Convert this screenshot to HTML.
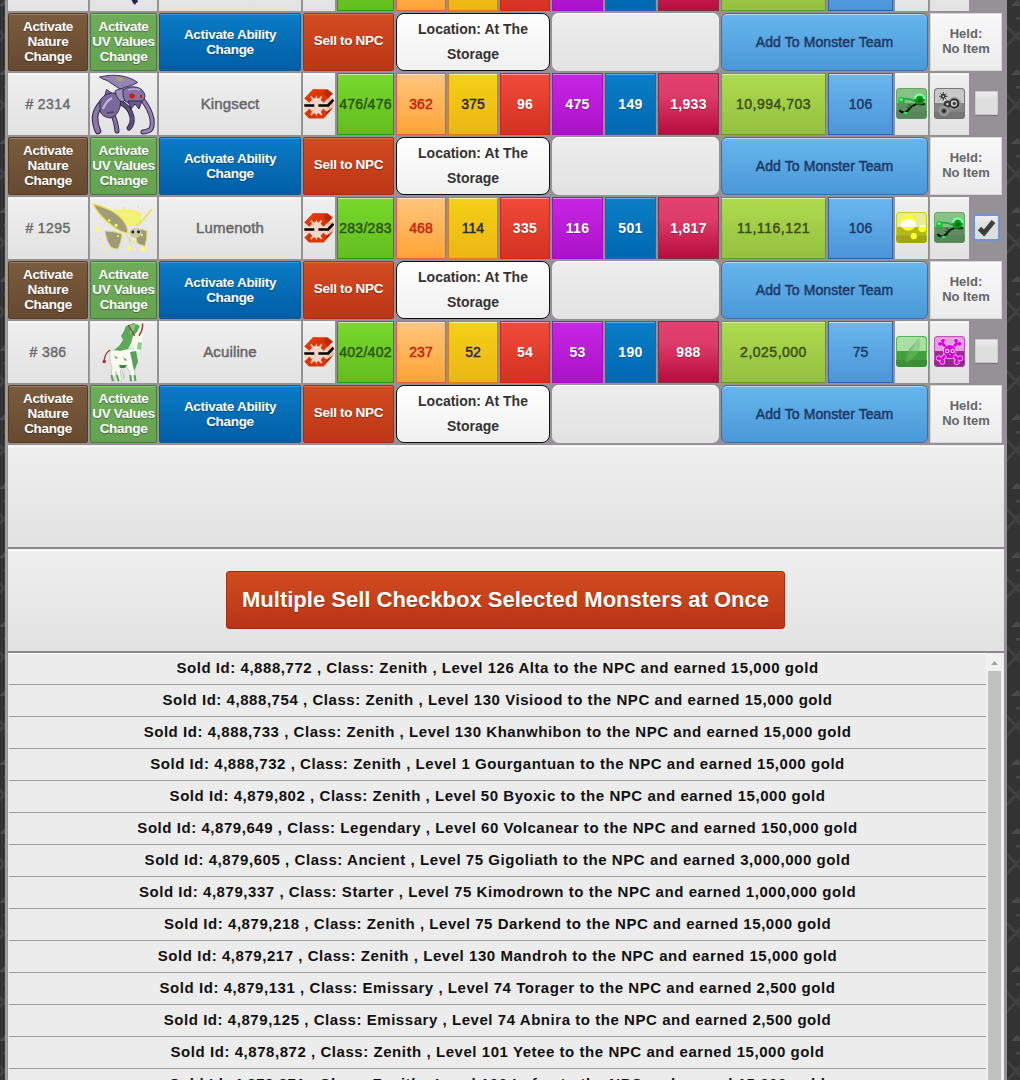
<!DOCTYPE html><html><head><meta charset="utf-8"><style>
*{margin:0;padding:0;box-sizing:border-box}
html,body{width:1020px;height:1080px;overflow:hidden}
body{background:#363636;font-family:"Liberation Sans",sans-serif;font-weight:bold;position:relative}
.a{position:absolute}
.frame{position:absolute;left:5px;top:0;width:1002px;height:1080px;background:#969196}
.fl{position:absolute;left:5px;top:0;width:2px;height:1080px;background:#a29ea3}
.g{background:linear-gradient(#efefef,#e2e2e2);box-shadow:inset 0 1px 0 #eee,inset 0 2px 0 #fff}
.c{display:flex;align-items:center;justify-content:center;text-align:center}
.btn{padding-bottom:2px;border-radius:2px;color:#fff;font-size:13.5px;letter-spacing:-0.3px;line-height:15px;text-shadow:0 1px 1px rgba(0,0,0,.35)}
.brown{background:linear-gradient(#7a5b3d,#664a30);border:1px solid #5a3a1c;box-shadow:inset 0 1px 0 #a07a6a}
.uv{background:linear-gradient(#6fac5a,#65a352);border:1px solid #3f8030;box-shadow:inset 0 1px 0 #8cc47a}
.abil{background:linear-gradient(#0a7cc6,#005ea6);border:1px solid #0a5a9a;box-shadow:inset 0 1px 0 #3a9ada}
.sell{background:linear-gradient(#d24c20,#bd3616);border:1px solid #a83010;box-shadow:inset 0 1px 0 #e0704a}
.loc{background:linear-gradient(#ffffff,#f0f0f0);border:1.5px solid #111;border-radius:8px;color:#333;font-size:14px;line-height:25px}
.gbox{background:linear-gradient(#ededed,#e2e2e2);border-radius:7px;box-shadow:inset 0 1px 0 #fff}
.add{background:linear-gradient(#66b6ec,#4a98d8);border:1px solid #3a6cb4;border-radius:6px;box-shadow:inset 0 1px 0 #b0dcf8;color:#1e3a6a;font-size:14px;letter-spacing:0.1px;font-weight:normal;-webkit-text-stroke:0.5px currentColor}
.held{padding-bottom:2px;box-shadow:inset 0 0 0 1px #d6d6d6,inset 0 2px 0 #fff;background:linear-gradient(#f8f8f8,#ececec);color:#666;font-size:13px;line-height:15px}
.stat{font-size:14px;font-weight:normal;-webkit-text-stroke:0.45px currentColor;box-shadow:inset 0 1px 0 rgba(255,255,255,.5)}
.hp{letter-spacing:0.3px;background:linear-gradient(#78d82c,#62be1e);border:1px solid #229911;color:#2c5212;box-shadow:inset 0 1px 0 #c8f0a0}
.s1{background:linear-gradient(#ffc67c,#ffa436);border:1px solid #e85a3a;color:#c8200e;box-shadow:inset 0 1px 0 #ffe6c0}
.s2{background:linear-gradient(#f4d018,#ecb612);border:1px solid #d88010;color:#1e2a40;box-shadow:inset 0 1px 0 #fff0a0}
.s3{background:linear-gradient(#f24a3a,#d43222);border:1px solid #d82010;color:#fff;box-shadow:inset 0 1px 0 #f8a090}
.s4{background:linear-gradient(#c626e4,#ac12ca);border:1px solid #a010c4;color:#fff;box-shadow:inset 0 1px 0 #e080f0}
.s5{background:linear-gradient(#0a7ec6,#0068b2);border:1px solid #2a62ae;color:#fff;box-shadow:inset 0 1px 0 #60aaf0}
.s6{background:linear-gradient(#e2426e 0%,#de3c6a 35%,#b80c3c 100%);border:1px solid #7a3346;color:#fff;box-shadow:none}
.gold{background:linear-gradient(#aedc4e,#94c040);border:1px solid #6a9a22;color:#3c4c14;letter-spacing:0.5px;box-shadow:inset 0 1px 0 #dcf4a0}
.lvl{background:linear-gradient(#68b8ee,#4c94d8);border:1px solid #2a62ae;color:#1e3a6a;box-shadow:inset 0 1px 0 #c0e4fa}
.s3,.s4,.s5,.s6{letter-spacing:0.3px;font-weight:bold;-webkit-text-stroke:0;text-shadow:0 1px 1px rgba(0,0,0,.25)}
.idc{color:#6c6c6c;font-size:14px;letter-spacing:0.4px;font-weight:normal;-webkit-text-stroke:0.45px currentColor}
.nm{font-weight:normal;-webkit-text-stroke:0.5px currentColor;color:#686868;font-size:15px;letter-spacing:0.15px;padding-bottom:2px}
.log{position:absolute;left:8px;top:653px;width:996px;height:427px;background:#ececec;overflow:hidden;box-shadow:inset 0 1px 0 #fff}
.row{height:32px;border-bottom:1px solid #9a9a9a;width:977px;margin-left:1px;font-size:15px;line-height:30px;text-align:center;color:#111;letter-spacing:0.55px;white-space:nowrap}
</style></head><body>
<svg class="a" style="left:0;top:0" width="1020" height="1080"><defs><pattern id="tx" x="1007" y="0" width="46" height="69" patternUnits="userSpaceOnUse"><rect width="46" height="69" fill="#333"/><path d="M-2 24 L20 48 M20 24 L-2 48 M23 58 L46 34" stroke="#414141" stroke-width="3" fill="none"/><path d="M4 6 l6 -6 l6 6z" fill="#4a4a4a"/><rect x="9" y="17" width="6" height="2.5" fill="#474747"/><rect x="30" y="50" width="10" height="3" fill="#3c3c3c"/></pattern></defs><rect width="1020" height="1080" fill="url(#tx)"/></svg>
<div class="frame"></div><div class="fl"></div>
<div class="a g c idc" style="left:8px;top:-51px;width:80px;height:62px"></div>
<div class="a g" style="left:90px;top:-51px;width:67px;height:62px"><svg class="a" style="left:40px;top:50px" width="10" height="8"><path d="M1 0 H7 L8 3 L6 4 L5 6 L3 4 Z" fill="#2a2050"/></svg></div>
<div class="a g c nm" style="left:159px;top:-51px;width:142px;height:62px"></div>
<div class="a g" style="left:303px;top:-51px;width:32px;height:62px"></div>
<div class="a c stat hp" style="left:337px;top:-51px;width:57px;height:62px"></div>
<div class="a c stat s1" style="left:396px;top:-51px;width:50px;height:62px"></div>
<div class="a c stat s2" style="left:448px;top:-51px;width:50px;height:62px"></div>
<div class="a c stat s3" style="left:500px;top:-51px;width:50px;height:62px"></div>
<div class="a c stat s4" style="left:552px;top:-51px;width:51px;height:62px"></div>
<div class="a c stat s5" style="left:605px;top:-51px;width:51px;height:62px"></div>
<div class="a c stat s6" style="left:658px;top:-51px;width:61px;height:62px"></div>
<div class="a c stat gold" style="left:721px;top:-51px;width:105px;height:62px"></div>
<div class="a c stat lvl" style="left:828px;top:-51px;width:65px;height:62px"></div>
<div class="a g" style="left:895px;top:-51px;width:33px;height:62px"></div>
<div class="a g" style="left:930px;top:-51px;width:39px;height:62px"></div>
<div class="a c btn brown" style="left:8px;top:13px;width:80px;height:58px">Activate<br>Nature<br>Change</div>
<div class="a c btn uv" style="left:90px;top:13px;width:67px;height:58px">Activate<br>UV Values<br>Change</div>
<div class="a c btn abil" style="left:159px;top:13px;width:142px;height:58px;padding-bottom:0">Activate Ability<br>Change</div>
<div class="a c btn sell" style="left:303px;top:13px;width:91px;height:58px;padding-bottom:3px">Sell to NPC</div>
<div class="a c loc" style="left:396px;top:13px;width:154px;height:58px">Location: At The<br>Storage</div>
<div class="a gbox" style="left:552px;top:13px;width:167px;height:58px"></div>
<div class="a c add" style="left:721px;top:13px;width:207px;height:58px">Add To Monster Team</div>
<div class="a c held" style="left:930px;top:13px;width:72px;height:58px">Held:<br>No Item</div>
<div class="a g c idc" style="left:8px;top:73px;width:80px;height:62px"># 2314</div>
<div class="a g" style="left:90px;top:73px;width:67px;height:62px"><svg class="a" style="left:0;top:0" width="67" height="62" viewBox="0 0 67 62">
  <g fill="none" stroke-linecap="round" stroke-linejoin="round">
   <path d="M12 30 Q6 36 5 44 Q5 52 8 58" stroke="#2e2248" stroke-width="6.5"/>
   <path d="M12 30 Q6 36 5 44 Q5 52 8 58" stroke="#8878a8" stroke-width="4.5"/>
   <path d="M22 40 Q26 48 27 58" stroke="#2e2248" stroke-width="5"/>
   <path d="M22 40 Q26 48 27 58" stroke="#8070a0" stroke-width="3.2"/>
   <path d="M31 30 Q40 34 42 44 Q43 51 39 55" stroke="#2a1e40" stroke-width="5"/>
   <path d="M31 30 Q40 34 42 44 Q43 51 39 55" stroke="#5e4e7e" stroke-width="3.4"/>
   <path d="M52 26 Q60 36 62 46 Q63 54 60 57 Q56 59 53 59" stroke="#2e2248" stroke-width="5"/>
   <path d="M52 26 Q60 36 62 46 Q63 54 60 57 Q56 59 53 59" stroke="#9080b0" stroke-width="3.2"/>
  </g>
  <g stroke="#2e2248" stroke-width="0.9" stroke-linejoin="round">
   <path d="M9.5 4 Q22 1 32 3 Q42 5 47.5 9.5 Q42 13 36 14 L30 16 Q24 12 17 7.5 Q12 6 9.5 4z" fill="#9484b4"/>
   <path d="M16.5 16.5 L23 21 L14 26z" fill="#8070a0"/>
   <path d="M10 27 Q16 19 26 20 Q32 24 30 34 Q27 44 20 45 Q12 44 10 38z" fill="#7a6a9a"/>
   <path d="M25 18 Q31 14 36 17 Q38 24 33 29 Q27 28 25 18z" fill="#a090c0"/>
   <path d="M33 17 Q38 13 46 14 Q54 16 55 23 Q54 29 48 31 Q40 32 35 28 Q32 22 33 17z" fill="#8474a4"/>
   <path d="M38 28 L41 36 L45 31 L49 36 L52 28z" fill="#6a5a8a"/>
  </g>
  <path d="M26 4 L33 4.5 L33 8 L27 8z" fill="#a8a070"/>
  <path d="M13 36 Q16 28 22 25" stroke="#c4b8e0" stroke-width="2" fill="none"/>
  <path d="M17 40 L24 39" stroke="#4a3a66" stroke-width="1.5"/>
  <ellipse cx="42" cy="23" rx="2.8" ry="2.4" fill="#d41818"/><ellipse cx="51" cy="23.5" rx="1.3" ry="2" fill="#c82030"/>
  <path d="M38 17 Q44 15 50 17" stroke="#b8a8d8" stroke-width="1.5" fill="none"/>
 </svg></div>
<div class="a g c nm" style="left:159px;top:73px;width:142px;height:62px">Kingsect</div>
<div class="a g" style="left:303px;top:73px;width:32px;height:62px"><svg class="a" style="left:1px;top:16px" width="30" height="31" viewBox="0 0 30 31">
<path d="M0.3 12.5 H24 L29.4 8.2 V19 L24 21 H0.3z" fill="#f4d4c6"/>
<path d="M23.5 9.4 L29.4 8.2 V19 L23.5 20.4z" fill="#f0b8a0"/>
<path d="M0.3 9.4 L9 0.3 H23.5 L28.8 4.6 L19.7 13.7 L16.6 10.9 H8.1 L5.3 13.7z" fill="#dc3606"/>
<path d="M0.3 9.4 L9 0.3 H14 L5.3 9 z" fill="#f03c08" opacity=".7"/>
<path d="M21 1 H23.5 L28.8 4.6 L23.8 9.6 L20 5z" fill="#b42c04"/>
<path d="M0.3 24.4 L5.3 19.8 L8.6 23 H16.2 L19.5 19.8 L22.5 22.6 L28.8 18.8 L19.7 29.4 H5 z" fill="#dc3606"/>
<path d="M22.5 22.6 L28.8 18.8 L24 24.5 L21 27z" fill="#b42c04"/>
<path d="M8.1 10.9 L6.2 7.8 L7.2 7 L10 9.5 L11.5 9 L12.3 6.5 L13.2 9 L14.6 9.5 L17.2 7 L18.2 7.8 L16.6 10.9 L17 13 V21 L16.6 22.8 L18.4 25.8 L17.4 26.6 L14.6 24.2 L13.2 24.8 L12.3 27.2 L11.5 24.8 L10 24.2 L7.2 26.6 L6.2 25.8 L8.1 22.8 L7.6 21 V13z" fill="#f4d4c6"/>
<path d="M0.3 16.5 H10.3 M14.4 16.5 H24.1 L29.4 10.8" stroke="#000" stroke-width="2.6" fill="none"/>
</svg></div>
<div class="a c stat hp" style="left:337px;top:73px;width:57px;height:62px">476/476</div>
<div class="a c stat s1" style="left:396px;top:73px;width:50px;height:62px">362</div>
<div class="a c stat s2" style="left:448px;top:73px;width:50px;height:62px">375</div>
<div class="a c stat s3" style="left:500px;top:73px;width:50px;height:62px">96</div>
<div class="a c stat s4" style="left:552px;top:73px;width:51px;height:62px">475</div>
<div class="a c stat s5" style="left:605px;top:73px;width:51px;height:62px">149</div>
<div class="a c stat s6" style="left:658px;top:73px;width:61px;height:62px">1,933</div>
<div class="a c stat gold" style="left:721px;top:73px;width:105px;height:62px">10,994,703</div>
<div class="a c stat lvl" style="left:828px;top:73px;width:65px;height:62px">106</div>
<div class="a g" style="left:895px;top:73px;width:33px;height:62px"><div class="a" style="left:1px;top:15px;width:31px;height:31px;border-radius:4px;overflow:hidden;background:linear-gradient(#86c286 0,#86c286 47%,#5e8e60 47%,#5e8e60 100%);box-shadow:inset 0 0 0 1px #6aa86a;"><svg width="31" height="31" viewBox="0 0 31 31">
   <rect x="0" y="23" width="31" height="8" fill="#557f57" opacity=".6"/>
   <path d="M5 11.5 Q12 9 19.5 13.5" stroke="#20a838" stroke-width="1.6" fill="none"/>
   <circle cx="5.5" cy="12.5" r="3.4" fill="#18c038"/><circle cx="5" cy="11.5" r="1.5" fill="#70f090"/>
   <path d="M20.5 16 Q16 17.5 14 20 Q12 23.5 8 24.5 Q5 24.5 3.5 22" stroke="#000" stroke-width="1.8" fill="none"/>
   <path d="M12 16.5 L17 18.5 M10.5 19 L15.5 20.5" stroke="#1a5a20" stroke-width="1.1"/>
   <ellipse cx="9.5" cy="25" rx="2.3" ry="1.6" fill="#30d858"/>
   <ellipse cx="25" cy="16" rx="4" ry="1.2" fill="#000"/>
   <circle cx="23.5" cy="11.5" r="5.2" fill="#0a9a1a"/><path d="M19 11 Q19.5 6.5 24 6.5 Q28 7 28.5 11" stroke="#80ffa8" stroke-width="2" fill="none"/>
   <circle cx="24" cy="12.5" r="2.2" fill="#067010"/></svg></div></div>
<div class="a g" style="left:930px;top:73px;width:39px;height:62px"><div class="a" style="left:4px;top:15px;width:31px;height:31px;border-radius:4px;overflow:hidden;background:linear-gradient(#c8c8c8 0,#c8c8c8 47%,#858585 47%,#858585 100%);box-shadow:inset 0 0 0 1px #777;"><svg width="31" height="31" viewBox="0 0 31 31">
   <rect x="0" y="24" width="31" height="7" fill="#6a6a6a" opacity=".5"/>
   <circle cx="9.3" cy="8.3" r="2.3" fill="#222"/><path d="M9.3 4 V12.6 M5 8.3 H13.6 M6.3 5.3 L12.3 11.3 M12.3 5.3 L6.3 11.3" stroke="#333" stroke-width="0.9"/>
   <circle cx="9.3" cy="8.3" r="0.9" fill="#ddd"/>
   <circle cx="20.3" cy="15.5" r="6.8" fill="#999" opacity=".8"/><circle cx="20.3" cy="15.5" r="5" fill="#222"/><circle cx="20" cy="15.5" r="3.3" fill="#ccc"/><circle cx="20.3" cy="15.5" r="1.8" fill="#444"/>
   <circle cx="13.4" cy="16.2" r="3.6" fill="#3a3a3a"/><circle cx="13.4" cy="16.2" r="1.1" fill="#eee"/>
   <circle cx="10" cy="23" r="5" fill="#a0a0a0"/><circle cx="10" cy="23" r="3" fill="#666"/><circle cx="10" cy="23" r="1.5" fill="#222"/></svg></div></div>
<div class="a" style="left:975px;top:73px;margin-top:18px;width:23px;height:24px;border-radius:2px;background:linear-gradient(#efefef,#dedede 40%,#dedede);box-shadow:inset 0 0 0 1px #ccc,0 1px 1px rgba(0,0,0,.25)"></div>
<div class="a c btn brown" style="left:8px;top:137px;width:80px;height:58px">Activate<br>Nature<br>Change</div>
<div class="a c btn uv" style="left:90px;top:137px;width:67px;height:58px">Activate<br>UV Values<br>Change</div>
<div class="a c btn abil" style="left:159px;top:137px;width:142px;height:58px;padding-bottom:0">Activate Ability<br>Change</div>
<div class="a c btn sell" style="left:303px;top:137px;width:91px;height:58px;padding-bottom:3px">Sell to NPC</div>
<div class="a c loc" style="left:396px;top:137px;width:154px;height:58px">Location: At The<br>Storage</div>
<div class="a gbox" style="left:552px;top:137px;width:167px;height:58px"></div>
<div class="a c add" style="left:721px;top:137px;width:207px;height:58px">Add To Monster Team</div>
<div class="a c held" style="left:930px;top:137px;width:72px;height:58px">Held:<br>No Item</div>
<div class="a g c idc" style="left:8px;top:197px;width:80px;height:62px"># 1295</div>
<div class="a g" style="left:90px;top:197px;width:67px;height:62px"><svg class="a" style="left:0;top:0" width="67" height="62" viewBox="0 0 67 62">
  <path d="M24 14 Q34 12 44 14 Q51 15 51 18 Q50 24 48 28 L36 29 Q29 22 24 14z" fill="#f2f274" stroke="#f8f040" stroke-width="0.8"/>
  <path d="M3 7 Q12 9 20 13 Q30 18 35 26 Q38 31 38 36 Q32 36 24 30 Q14 23 8 15 Q5 11 3 7z" fill="#a29c7a" stroke="#e8e448" stroke-width="1.3"/>
  <path d="M15 34 Q24 34 32 37 Q31 46 28 52 Q24 52 21 50 Q16 44 15 34z" fill="#a09a7c" stroke="#e0dc58" stroke-width="0.9"/>
  <path d="M47 32 Q53 32 57 34 Q57 42 55 49 Q50 48 47 46 Q45 38 47 32z" fill="#a09a7c" stroke="#e0dc58" stroke-width="0.9"/>
  <path d="M47 29 Q56 20 62 12" stroke="#e8e460" stroke-width="2" fill="none"/>
  <ellipse cx="45.5" cy="36" rx="6" ry="5" fill="#cfcc94"/>
  <path d="M36 38 Q40 44 44 46 M40 40 Q38 46 42 48" stroke="#e8e060" stroke-width="1" fill="none"/>
  <circle cx="42.8" cy="35" r="1.4" fill="#101040"/><circle cx="48.5" cy="35" r="1.4" fill="#101040"/>
  <g fill="#ffff50"><circle cx="7.2" cy="32" r="2"/><circle cx="38.9" cy="51.6" r="2"/><circle cx="53" cy="52.3" r="2"/><circle cx="12.8" cy="48.1" r="1.2"/><circle cx="16.3" cy="53" r="1.2"/><circle cx="26.2" cy="28.3" r="1.5"/><circle cx="19.2" cy="23.4" r="1.2"/><circle cx="28" cy="39" r="1"/><circle cx="52" cy="38" r="1"/></g>
  <g fill="#f8c8a0"><circle cx="34" cy="11" r="0.8"/><circle cx="48" cy="10" r="0.8"/><circle cx="56" cy="24" r="0.8"/><circle cx="10" cy="42" r="0.8"/></g>
 </svg></div>
<div class="a g c nm" style="left:159px;top:197px;width:142px;height:62px">Lumenoth</div>
<div class="a g" style="left:303px;top:197px;width:32px;height:62px"><svg class="a" style="left:1px;top:16px" width="30" height="31" viewBox="0 0 30 31">
<path d="M0.3 12.5 H24 L29.4 8.2 V19 L24 21 H0.3z" fill="#f4d4c6"/>
<path d="M23.5 9.4 L29.4 8.2 V19 L23.5 20.4z" fill="#f0b8a0"/>
<path d="M0.3 9.4 L9 0.3 H23.5 L28.8 4.6 L19.7 13.7 L16.6 10.9 H8.1 L5.3 13.7z" fill="#dc3606"/>
<path d="M0.3 9.4 L9 0.3 H14 L5.3 9 z" fill="#f03c08" opacity=".7"/>
<path d="M21 1 H23.5 L28.8 4.6 L23.8 9.6 L20 5z" fill="#b42c04"/>
<path d="M0.3 24.4 L5.3 19.8 L8.6 23 H16.2 L19.5 19.8 L22.5 22.6 L28.8 18.8 L19.7 29.4 H5 z" fill="#dc3606"/>
<path d="M22.5 22.6 L28.8 18.8 L24 24.5 L21 27z" fill="#b42c04"/>
<path d="M8.1 10.9 L6.2 7.8 L7.2 7 L10 9.5 L11.5 9 L12.3 6.5 L13.2 9 L14.6 9.5 L17.2 7 L18.2 7.8 L16.6 10.9 L17 13 V21 L16.6 22.8 L18.4 25.8 L17.4 26.6 L14.6 24.2 L13.2 24.8 L12.3 27.2 L11.5 24.8 L10 24.2 L7.2 26.6 L6.2 25.8 L8.1 22.8 L7.6 21 V13z" fill="#f4d4c6"/>
<path d="M0.3 16.5 H10.3 M14.4 16.5 H24.1 L29.4 10.8" stroke="#000" stroke-width="2.6" fill="none"/>
</svg></div>
<div class="a c stat hp" style="left:337px;top:197px;width:57px;height:62px">283/283</div>
<div class="a c stat s1" style="left:396px;top:197px;width:50px;height:62px">468</div>
<div class="a c stat s2" style="left:448px;top:197px;width:50px;height:62px">114</div>
<div class="a c stat s3" style="left:500px;top:197px;width:50px;height:62px">335</div>
<div class="a c stat s4" style="left:552px;top:197px;width:51px;height:62px">116</div>
<div class="a c stat s5" style="left:605px;top:197px;width:51px;height:62px">501</div>
<div class="a c stat s6" style="left:658px;top:197px;width:61px;height:62px">1,817</div>
<div class="a c stat gold" style="left:721px;top:197px;width:105px;height:62px">11,116,121</div>
<div class="a c stat lvl" style="left:828px;top:197px;width:65px;height:62px">106</div>
<div class="a g" style="left:895px;top:197px;width:33px;height:62px"><div class="a" style="left:1px;top:15px;width:31px;height:31px;border-radius:4px;overflow:hidden;background:linear-gradient(#e8ec92 0,#e8ec92 47%,#b4b81c 47%,#b4b81c 100%);box-shadow:inset 0 0 0 1px #c8d020;"><svg width="31" height="31" viewBox="0 0 31 31">
   <rect x="0" y="23.5" width="31" height="7.5" fill="#a0a418"/>
   <circle cx="12.3" cy="10.7" r="8" fill="#ffff30"/><path d="M4.3 15 A8 8 0 0 1 20.3 15z" fill="#fffff8"/><rect x="4.3" y="0" width="16" height="15" fill="none"/>
   <circle cx="26.3" cy="16.5" r="3.8" fill="#ffff30"/><path d="M22.8 15 A3.8 3.8 0 0 1 29.8 15z" fill="#fffff8"/>
   <circle cx="17.8" cy="24.2" r="3.1" fill="#ffff30"/></svg></div></div>
<div class="a g" style="left:930px;top:197px;width:39px;height:62px"><div class="a" style="left:4px;top:15px;width:31px;height:31px;border-radius:4px;overflow:hidden;background:linear-gradient(#86c286 0,#86c286 47%,#5e8e60 47%,#5e8e60 100%);box-shadow:inset 0 0 0 1px #6aa86a;"><svg width="31" height="31" viewBox="0 0 31 31">
   <rect x="0" y="23" width="31" height="8" fill="#557f57" opacity=".6"/>
   <path d="M5 11.5 Q12 9 19.5 13.5" stroke="#20a838" stroke-width="1.6" fill="none"/>
   <circle cx="5.5" cy="12.5" r="3.4" fill="#18c038"/><circle cx="5" cy="11.5" r="1.5" fill="#70f090"/>
   <path d="M20.5 16 Q16 17.5 14 20 Q12 23.5 8 24.5 Q5 24.5 3.5 22" stroke="#000" stroke-width="1.8" fill="none"/>
   <path d="M12 16.5 L17 18.5 M10.5 19 L15.5 20.5" stroke="#1a5a20" stroke-width="1.1"/>
   <ellipse cx="9.5" cy="25" rx="2.3" ry="1.6" fill="#30d858"/>
   <ellipse cx="25" cy="16" rx="4" ry="1.2" fill="#000"/>
   <circle cx="23.5" cy="11.5" r="5.2" fill="#0a9a1a"/><path d="M19 11 Q19.5 6.5 24 6.5 Q28 7 28.5 11" stroke="#80ffa8" stroke-width="2" fill="none"/>
   <circle cx="24" cy="12.5" r="2.2" fill="#067010"/></svg></div></div>
<div class="a" style="left:973px;top:197px;margin-top:17px;width:27px;height:27px;border-radius:3px;border:2px solid #6a96d8;background:linear-gradient(#efefef,#dedede 40%,#dedede)"><svg width="23" height="23" style="position:absolute;left:0;top:0"><path d="M4.5 12.5 L9 17 L18.5 5.5" stroke="#3e3e3e" stroke-width="4.8" fill="none"/></svg></div>
<div class="a c btn brown" style="left:8px;top:261px;width:80px;height:58px">Activate<br>Nature<br>Change</div>
<div class="a c btn uv" style="left:90px;top:261px;width:67px;height:58px">Activate<br>UV Values<br>Change</div>
<div class="a c btn abil" style="left:159px;top:261px;width:142px;height:58px;padding-bottom:0">Activate Ability<br>Change</div>
<div class="a c btn sell" style="left:303px;top:261px;width:91px;height:58px;padding-bottom:3px">Sell to NPC</div>
<div class="a c loc" style="left:396px;top:261px;width:154px;height:58px">Location: At The<br>Storage</div>
<div class="a gbox" style="left:552px;top:261px;width:167px;height:58px"></div>
<div class="a c add" style="left:721px;top:261px;width:207px;height:58px">Add To Monster Team</div>
<div class="a c held" style="left:930px;top:261px;width:72px;height:58px">Held:<br>No Item</div>
<div class="a g c idc" style="left:8px;top:321px;width:80px;height:62px"># 386</div>
<div class="a g" style="left:90px;top:321px;width:67px;height:62px"><svg class="a" style="left:0;top:0" width="67" height="62" viewBox="0 0 67 62">
  <path d="M20 30 L30 28 L42 28 L46 30 L47 40 L45 47 L44 60 L40 60 L40 50 L36 46 L32 46 L30 52 L32 60 L28 60 L26 50 L24 60 L21 60 L22 46 L20 40z" fill="#fafaf2" stroke="#a8c0a8" stroke-width="0.6"/>
  <path d="M44 9 L50 7 L53 14 L52 24 L49 31 L44 30 L42 20z" fill="#f6f6ee"/>
  <path d="M36 5 L44 2 L50 5 L47 11 L43 15 L41 22 L38 28 L30 30 L24 29 L29 25 L33 19 L31 15 L34 10z" fill="#5ea85a"/>
  <path d="M40 4 L46 3 L44 9 L40 14z" fill="#88c884"/>
  <path d="M48 21 L52 22 L51 29 L47 28z" fill="#8ad080"/>
  <path d="M38.5 4 Q41 9 44.7 14.8 M52.6 2.5 Q53 9 49 14.8" stroke="#8a4a3c" stroke-width="1.5" fill="none"/>
  <path d="M40 31 L46 30 L48 41 L44 50 L42 40z" fill="#5aa05a"/>
  <path d="M29 44 L37 44 L35 47 L30 47z" fill="#3a8a3a"/>
  <path d="M24 34 L28 37 L26 38z M33 36 L37 39 L35 40z" fill="#5aa05a"/>
  <path d="M21.5 54 L23 60 M27 54 L28.5 60 M40.5 54 L41 60 M44.5 54 L45.5 60" stroke="#5aa05a" stroke-width="2"/>
  <path d="M32 48 L35 56 L33 58z" fill="#c8c8c8"/>
  <path d="M20 29 Q15 32 14 40" stroke="#8a4a3c" stroke-width="1.4" fill="none"/>
  <circle cx="14.2" cy="40.5" r="1.7" fill="#c02828"/>
 </svg></div>
<div class="a g c nm" style="left:159px;top:321px;width:142px;height:62px">Acuiline</div>
<div class="a g" style="left:303px;top:321px;width:32px;height:62px"><svg class="a" style="left:1px;top:16px" width="30" height="31" viewBox="0 0 30 31">
<path d="M0.3 12.5 H24 L29.4 8.2 V19 L24 21 H0.3z" fill="#f4d4c6"/>
<path d="M23.5 9.4 L29.4 8.2 V19 L23.5 20.4z" fill="#f0b8a0"/>
<path d="M0.3 9.4 L9 0.3 H23.5 L28.8 4.6 L19.7 13.7 L16.6 10.9 H8.1 L5.3 13.7z" fill="#dc3606"/>
<path d="M0.3 9.4 L9 0.3 H14 L5.3 9 z" fill="#f03c08" opacity=".7"/>
<path d="M21 1 H23.5 L28.8 4.6 L23.8 9.6 L20 5z" fill="#b42c04"/>
<path d="M0.3 24.4 L5.3 19.8 L8.6 23 H16.2 L19.5 19.8 L22.5 22.6 L28.8 18.8 L19.7 29.4 H5 z" fill="#dc3606"/>
<path d="M22.5 22.6 L28.8 18.8 L24 24.5 L21 27z" fill="#b42c04"/>
<path d="M8.1 10.9 L6.2 7.8 L7.2 7 L10 9.5 L11.5 9 L12.3 6.5 L13.2 9 L14.6 9.5 L17.2 7 L18.2 7.8 L16.6 10.9 L17 13 V21 L16.6 22.8 L18.4 25.8 L17.4 26.6 L14.6 24.2 L13.2 24.8 L12.3 27.2 L11.5 24.8 L10 24.2 L7.2 26.6 L6.2 25.8 L8.1 22.8 L7.6 21 V13z" fill="#f4d4c6"/>
<path d="M0.3 16.5 H10.3 M14.4 16.5 H24.1 L29.4 10.8" stroke="#000" stroke-width="2.6" fill="none"/>
</svg></div>
<div class="a c stat hp" style="left:337px;top:321px;width:57px;height:62px">402/402</div>
<div class="a c stat s1" style="left:396px;top:321px;width:50px;height:62px">237</div>
<div class="a c stat s2" style="left:448px;top:321px;width:50px;height:62px">52</div>
<div class="a c stat s3" style="left:500px;top:321px;width:50px;height:62px">54</div>
<div class="a c stat s4" style="left:552px;top:321px;width:51px;height:62px">53</div>
<div class="a c stat s5" style="left:605px;top:321px;width:51px;height:62px">190</div>
<div class="a c stat s6" style="left:658px;top:321px;width:61px;height:62px">988</div>
<div class="a c stat gold" style="left:721px;top:321px;width:105px;height:62px">2,025,000</div>
<div class="a c stat lvl" style="left:828px;top:321px;width:65px;height:62px">75</div>
<div class="a g" style="left:895px;top:321px;width:33px;height:62px"><div class="a" style="left:1px;top:15px;width:31px;height:31px;border-radius:4px;overflow:hidden;background:linear-gradient(#acdea6 0,#acdea6 47%,#44a03a 47%,#44a03a 100%);box-shadow:inset 0 0 0 1px #50b850;"><svg width="31" height="31" viewBox="0 0 31 31">
   <rect x="0" y="24" width="31" height="7" fill="#3a9034"/>
   <path d="M9.5 27 Q9 17 15 11 Q20 6 23 1.5 Q25 9 23 15 Q19 22 9.5 27z" fill="#70c070" opacity=".45"/>
   <path d="M9.5 27 Q9 17 15 11 Q20 6 23 1.5 Q17 10 9.5 27z" fill="#4a9a4a" opacity=".35"/></svg></div></div>
<div class="a g" style="left:930px;top:321px;width:39px;height:62px"><div class="a" style="left:4px;top:15px;width:31px;height:31px;border-radius:4px;overflow:hidden;background:linear-gradient(#e0a2d8 0,#e0a2d8 47%,#a02c92 47%,#a02c92 100%);box-shadow:inset 0 0 0 1px #c050c0;"><svg width="31" height="31" viewBox="0 0 31 31">
   <rect x="0" y="24" width="31" height="7" fill="#902082" opacity=".5"/>
   <g fill="#e000e0" stroke="#ffb8ff" stroke-width="0.9">
   <path d="M7.5 6.5 L24 24 M23.5 6.5 L7 24" stroke="#ffb8ff" stroke-width="4.8"/>
   <circle cx="5.9" cy="7.9" r="2.4"/><circle cx="9" cy="4.8" r="2.4"/><circle cx="22" cy="4.8" r="2.4"/><circle cx="25.5" cy="7.9" r="2.4"/>
   <circle cx="4.9" cy="22.3" r="2.6"/><circle cx="8.3" cy="25.8" r="2.6"/><circle cx="26.1" cy="22.3" r="2.6"/><circle cx="22.7" cy="26.1" r="2.6"/>
   <path d="M7.5 6.5 L24 24 M23.5 6.5 L7 24" stroke="#e000e0" stroke-width="3"/>
   <circle cx="15.8" cy="15" r="6.2"/><rect x="12" y="17" width="7.6" height="5.5" rx="2"/></g>
   <circle cx="15.8" cy="15" r="5.8" fill="#d800d8"/><rect x="12.5" y="17" width="6.6" height="5" rx="1.5" fill="#c000c8"/>
   <circle cx="13.1" cy="15.1" r="1.7" fill="none" stroke="#ffd0ff" stroke-width="1.1"/><circle cx="18.6" cy="15.1" r="1.7" fill="none" stroke="#ffd0ff" stroke-width="1.1"/>
   <circle cx="15.8" cy="18.5" r="0.7" fill="#ffd0ff"/></svg></div></div>
<div class="a" style="left:975px;top:321px;margin-top:18px;width:23px;height:24px;border-radius:2px;background:linear-gradient(#efefef,#dedede 40%,#dedede);box-shadow:inset 0 0 0 1px #ccc,0 1px 1px rgba(0,0,0,.25)"></div>
<div class="a c btn brown" style="left:8px;top:385px;width:80px;height:58px">Activate<br>Nature<br>Change</div>
<div class="a c btn uv" style="left:90px;top:385px;width:67px;height:58px">Activate<br>UV Values<br>Change</div>
<div class="a c btn abil" style="left:159px;top:385px;width:142px;height:58px;padding-bottom:0">Activate Ability<br>Change</div>
<div class="a c btn sell" style="left:303px;top:385px;width:91px;height:58px;padding-bottom:3px">Sell to NPC</div>
<div class="a c loc" style="left:396px;top:385px;width:154px;height:58px">Location: At The<br>Storage</div>
<div class="a gbox" style="left:552px;top:385px;width:167px;height:58px"></div>
<div class="a c add" style="left:721px;top:385px;width:207px;height:58px">Add To Monster Team</div>
<div class="a c held" style="left:930px;top:385px;width:72px;height:58px">Held:<br>No Item</div>
<div class="a g" style="left:8px;top:445px;width:996px;height:102px"></div>
<div class="a" style="left:8px;top:547px;width:996px;height:2px;background:#8c878c"></div>
<div class="a g" style="left:8px;top:549px;width:996px;height:102px"></div>
<div class="a c" style="left:226px;top:571px;width:559px;height:58px;border-radius:3px;background:linear-gradient(#d24c20,#b93416);border:1px solid #a42e10;color:#fff;font-size:22px;text-shadow:0 1px 1px rgba(0,0,0,.3)">Multiple Sell Checkbox Selected Monsters at Once</div>
<div class="a" style="left:8px;top:651px;width:996px;height:2px;background:#8c878c"></div>
<div class="log">
<div class="row">Sold Id: 4,888,772 , Class: Zenith , Level 126 Alta to the NPC and earned 15,000 gold</div>
<div class="row">Sold Id: 4,888,754 , Class: Zenith , Level 130 Visiood to the NPC and earned 15,000 gold</div>
<div class="row">Sold Id: 4,888,733 , Class: Zenith , Level 130 Khanwhibon to the NPC and earned 15,000 gold</div>
<div class="row">Sold Id: 4,888,732 , Class: Zenith , Level 1 Gourgantuan to the NPC and earned 15,000 gold</div>
<div class="row">Sold Id: 4,879,802 , Class: Zenith , Level 50 Byoxic to the NPC and earned 15,000 gold</div>
<div class="row">Sold Id: 4,879,649 , Class: Legendary , Level 60 Volcanear to the NPC and earned 150,000 gold</div>
<div class="row">Sold Id: 4,879,605 , Class: Ancient , Level 75 Gigoliath to the NPC and earned 3,000,000 gold</div>
<div class="row">Sold Id: 4,879,337 , Class: Starter , Level 75 Kimodrown to the NPC and earned 1,000,000 gold</div>
<div class="row">Sold Id: 4,879,218 , Class: Zenith , Level 75 Darkend to the NPC and earned 15,000 gold</div>
<div class="row">Sold Id: 4,879,217 , Class: Zenith , Level 130 Mandroh to the NPC and earned 15,000 gold</div>
<div class="row">Sold Id: 4,879,131 , Class: Emissary , Level 74 Torager to the NPC and earned 2,500 gold</div>
<div class="row">Sold Id: 4,879,125 , Class: Emissary , Level 74 Abnira to the NPC and earned 2,500 gold</div>
<div class="row">Sold Id: 4,878,872 , Class: Zenith , Level 101 Yetee to the NPC and earned 15,000 gold</div>
<div class="row">Sold Id: 4,878,871 , Class: Zenith , Level 100 Lufox to the NPC and earned 15,000 gold</div>
</div>
<div class="a" style="left:986px;top:653px;width:18px;height:427px;background:#f1f1f1"></div>
<svg class="a" style="left:986px;top:653px" width="18" height="20"><path d="M5 12 L8.5 8 L12 12z" fill="#a3a3a3"/></svg>
<div class="a" style="left:988px;top:671px;width:13px;height:409px;background:#c1c1c1"></div>
</body></html>
